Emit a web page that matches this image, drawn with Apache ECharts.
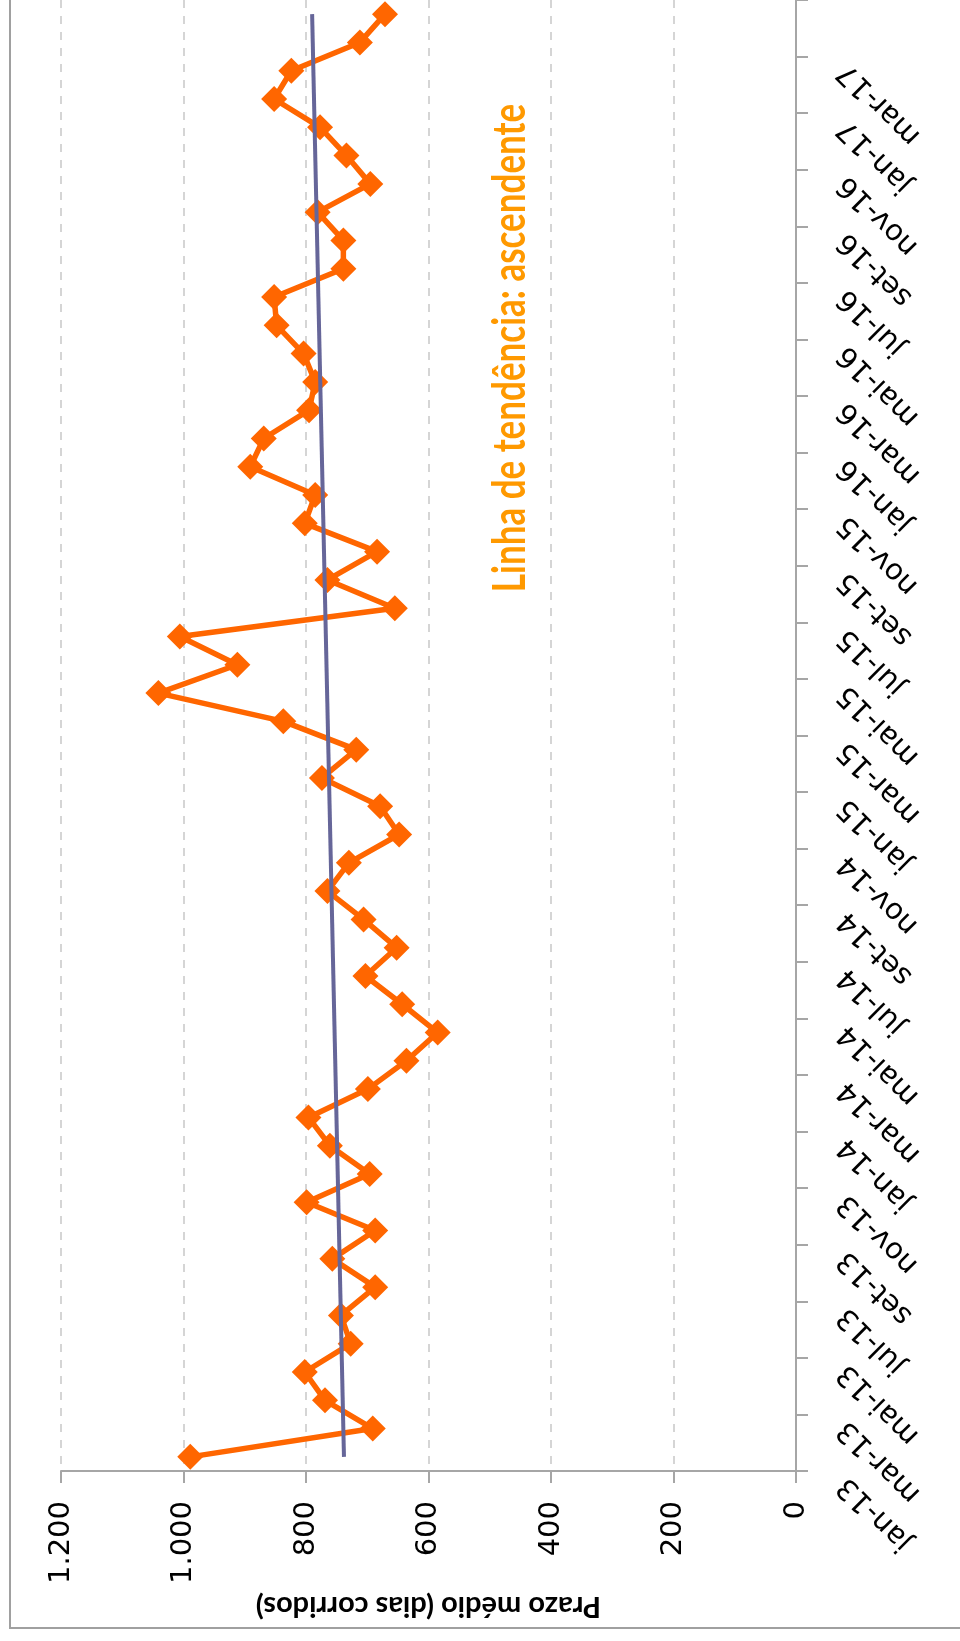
<!DOCTYPE html>
<html>
<head>
<meta charset="utf-8">
<script src="https://cdn.jsdelivr.net/npm/echarts@6/dist/echarts.min.js"></script>
<style>
html,body{margin:0;padding:0;background:#fff;}
#chart{width:960px;height:1641px;}
</style>
</head>
<body>
<div id="chart"></div>
<script>
const categorias = [
  'jan-13','fev-13','mar-13','abr-13','mai-13','jun-13','jul-13','ago-13','set-13','out-13','nov-13','dez-13',
  'jan-14','fev-14','mar-14','abr-14','mai-14','jun-14','jul-14','ago-14','set-14','out-14','nov-14','dez-14',
  'jan-15','fev-15','mar-15','abr-15','mai-15','jun-15','jul-15','ago-15','set-15','out-15','nov-15','dez-15',
  'jan-16','fev-16','mar-16','abr-16','mai-16','jun-16','jul-16','ago-16','set-16','out-16','nov-16','dez-16',
  'jan-17','fev-17','mar-17','abr-17'
];
const prazoMedio = [
  989,691,769,802,727,743,687,757,687,799,
  696,761,796,699,636,585,643,703,652,706,
  765,730,648,679,774,718,837,1041,912,1006,
  655,765,684,802,785,891,869,795,785,804,
  848,852,739,739,781,695,734,777,852,824,
  712,671
];
// trend line endpoints (first and last month)
const tendencia = [738, 790];
const valorTicks = [0, 200, 400, 600, 800, 1000, 1200];
const tituloEixo = 'Prazo médio (dias corridos)';
const textoTendencia = 'Linha de tendência: ascendente';

const tendenciaSerie = categorias.map((c, i) =>
  i === 0 ? tendencia[0] : (i === categorias.length - 1 ? tendencia[1] : null));

function fmt(v) {
  if (v >= 1000) return Math.floor(v / 1000) + '.' + String(v % 1000).padStart(3, '0');
  return String(v);
}

const chart = echarts.init(document.getElementById('chart'), null, {renderer: 'canvas'});
chart.setOption({
  animation: false,
  backgroundColor: '#ffffff',
  grid: {left: 61, right: 164, top: -11, bottom: 170, containLabel: false},
  xAxis: {
    type: 'value',
    inverse: true,
    min: valorTicks[0],
    max: valorTicks[valorTicks.length - 1],
    interval: 200,
    position: 'bottom',
    axisLine: {show: true, lineStyle: {color: '#a6a6a6', width: 2}},
    axisTick: {show: true, length: 12, lineStyle: {color: '#a6a6a6', width: 2}},
    axisLabel: {
      rotate: 90, margin: 30, color: '#000',
      fontFamily: 'DejaVu Sans', fontSize: 29,
      formatter: fmt
    },
    splitLine: {show: true, lineStyle: {color: '#c8c8c8', type: [8, 8], width: 1.5}},
    name: tituloEixo,
    nameLocation: 'middle',
    nameRotate: 180,
    nameGap: 92,
    nameTextStyle: {fontFamily: 'Lato', fontWeight: 'bold', fontSize: 29, color: '#000'}
  },
  yAxis: {
    type: 'category',
    position: 'right',
    data: categorias,
    boundaryGap: true,
    axisLine: {show: true, lineStyle: {color: '#a6a6a6', width: 2}},
    axisTick: {show: true, interval: 1, length: 12, lineStyle: {color: '#a6a6a6', width: 2}},
    axisLabel: {
      interval: 1, rotate: 135, margin: 22,
      align: 'right', verticalAlign: 'middle',
      padding: [0, 35, 0, 0],
      color: '#000', fontFamily: 'DejaVu Sans', fontSize: 29
    },
    splitLine: {show: false}
  },
  series: [
    {
      type: 'line',
      data: prazoMedio,
      symbol: 'diamond',
      symbolSize: 26,
      showSymbol: true,
      showAllSymbol: true,
      lineStyle: {color: '#ff6600', width: 5.5},
      itemStyle: {color: '#ff6600'},
      z: 3
    },
    {
      type: 'line',
      data: tendenciaSerie,
      connectNulls: true,
      symbol: 'none',
      lineStyle: {color: '#666699', width: 4},
      z: 4
    }
  ],
  graphic: [
    {
      type: 'rect',
      shape: {x: 10, y: -20, width: 980, height: 1648},
      style: {fill: null, stroke: '#a0a0a0', lineWidth: 2},
      silent: true
    },
    {
      type: 'text',
      x: 510, y: 348,
      rotation: Math.PI / 2,
      scaleY: 1.3,
      style: {
        text: textoTendencia,
        fontFamily: 'Lato', fontWeight: 'bold', fontSize: 35,
        fill: '#ff9900', align: 'center', verticalAlign: 'middle'
      },
      z: 10
    }
  ]
});
</script>
</body>
</html>
